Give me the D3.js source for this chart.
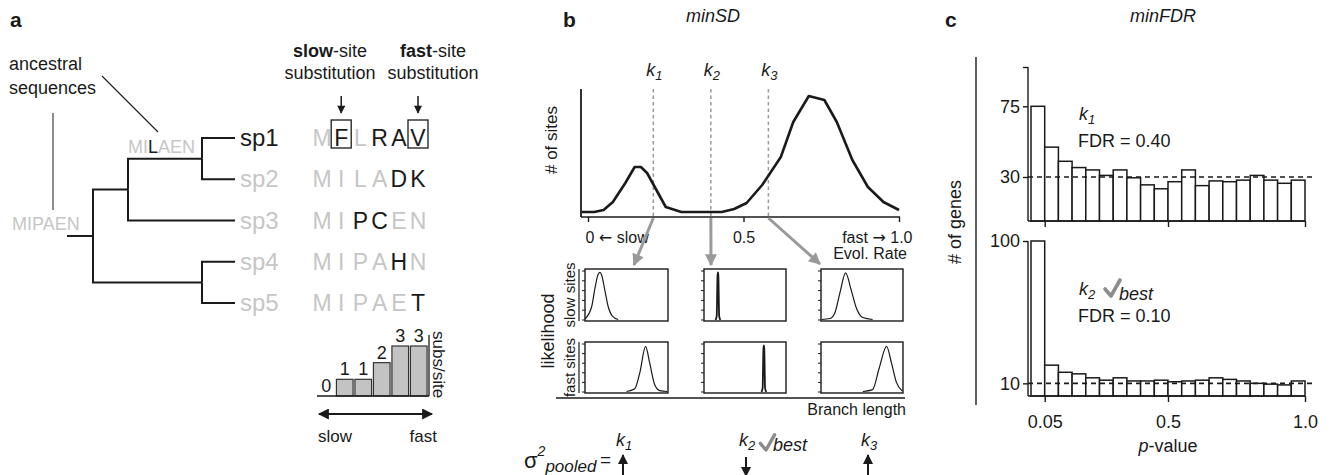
<!DOCTYPE html>
<html lang='en'>
<head>
    <meta charset='UTF-8'>
    <title>Site-rate partition figure</title>
    <style>
        body { margin: 0; background: #fff; }
        svg { display: block; font-family: 'Liberation Sans', Arial, Helvetica, sans-serif; }
        .axis path, .axis line { stroke: #1a1a1a; stroke-width: 1.4px; }
        .axis text { font-family: 'Liberation Sans', Arial, Helvetica, sans-serif; fill: #1a1a1a; }
        .arrowglyph { font-family: 'DejaVu Sans', sans-serif; }
    </style>
</head>
<body>
    <div id="figure"></div>
    <script src='https://d3js.org/d3.v7.min.js'></script>
    <script>
        // ---------- panel a data ----------
        const species = ['sp1', 'sp2', 'sp3', 'sp4', 'sp5']
        const leafSeqs = ['MFLRAV', 'MILADK', 'MIPCEN', 'MIPAHN', 'MIPAET']
        const treeRows = [
            { id: 'root', parent: '', len: 0 },
            { id: 'A', parent: 'root', len: 35 },
            { id: 'B', parent: 'A', len: 74 },
            { id: 'sp1', parent: 'B', len: 33 },
            { id: 'sp2', parent: 'B', len: 33 },
            { id: 'sp3', parent: 'A', len: 107 },
            { id: 'C', parent: 'root', len: 109 },
            { id: 'sp4', parent: 'C', len: 33 },
            { id: 'sp5', parent: 'C', len: 33 }
        ]
        const rootStubLen = 26
        const ancestralNodes = ['root', 'A']
        const ancestralSeqs = ['MIPAEN', 'MILAEN']
        const boxedCols = [1, 5] // slow-site and fast-site columns
        const subsPerSite = [0, 1, 1, 2, 3, 3]

        // ---------- panel b data ----------
        const rateGrid = [-0.02, 0.02, 0.05, 0.08, 0.12, 0.15, 0.17, 0.19, 0.22, 0.25, 0.30, 0.39, 0.43,
            0.47, 0.51, 0.56, 0.62, 0.66, 0.71, 0.76, 0.80, 0.85, 0.90, 0.95, 1.00]
        const siteCounts = [5, 5, 7, 15, 34, 50, 50, 44, 27, 10, 5, 5, 5, 8, 14, 32, 60, 95, 121, 117, 95, 57, 30, 15, 7]
        const rateTicks = [0, 0.5, 1]
        const kCuts = [0.21, 0.395, 0.58]
        const kNames = ['1', '2', '3']
        const pooledDir = ['up', 'down', 'up']
        const bestK = 1
        // likelihood curves, [branch length, relative likelihood] per cut
        const slowLik = [
            [[0, 0.02], [0.08, 0.27], [0.12, 0.65], [0.16, 0.94], [0.18, 0.97], [0.2, 0.92], [0.24, 0.6], [0.28, 0.27], [0.33, 0.08], [0.4, 0.01]],
            [[0.14, 0], [0.155, 0.08], [0.165, 0.9], [0.17, 0.97], [0.175, 0.9], [0.185, 0.08], [0.2, 0]],
            [[0.01, 0.01], [0.11, 0.03], [0.17, 0.15], [0.23, 0.55], [0.3, 0.96], [0.37, 0.6], [0.43, 0.25], [0.51, 0.05], [0.63, 0.01]]
        ]
        const fastLik = [
            [[0.5, 0.01], [0.6, 0.07], [0.66, 0.4], [0.73, 0.95], [0.78, 0.6], [0.84, 0.15], [0.9, 0.03], [0.99, 0.01]],
            [[0.7, 0], [0.715, 0.08], [0.725, 0.9], [0.73, 0.97], [0.735, 0.9], [0.745, 0.08], [0.76, 0]],
            [[0.51, 0.01], [0.63, 0.05], [0.71, 0.5], [0.8, 0.95], [0.86, 0.6], [0.92, 0.2], [0.99, 0.02]]
        ]

        // ---------- panel c data ----------
        const pBreaks = [0, 0.05, 0.1, 0.15, 0.2, 0.25, 0.3, 0.35, 0.4, 0.45, 0.5,
            0.55, 0.6, 0.65, 0.7, 0.75, 0.8, 0.85, 0.9, 0.95, 1.0]
        const genesK1 = [75, 49, 40, 36, 34.5, 31, 34.5, 29.5, 25, 22.5, 27, 34.5, 24.5, 27.5, 27, 28, 31, 28, 26, 28]
        const genesK2 = [100, 21.5, 17, 16, 13.5, 12, 13.5, 11.5, 11.5, 12, 11, 11.5, 12, 13.5, 12.5, 11.5, 10, 9.5, 9, 11.5]
        const pTicks = [0.05, 0.5, 1.0]
        const nullK1 = 30
        const nullK2 = 10
        const fdrK1 = '0.40'
        const fdrK2 = '0.10'

        const ink = '#1a1a1a'
        const pale = '#c6c6c6'
        const grey = '#9a9a9a'

        const svg = d3.select('#figure').append('svg')
            .attr('width', 1336)
            .attr('height', 475)

        const defs = svg.append('defs')
        function addMarker(id, color, w, h) {
            defs.append('marker')
                .attr('id', id)
                .attr('viewBox', '0 0 10 10')
                .attr('refX', 9).attr('refY', 5)
                .attr('markerUnits', 'userSpaceOnUse')
                .attr('markerWidth', w).attr('markerHeight', h)
                .attr('orient', 'auto-start-reverse')
                .append('path')
                .attr('d', 'M0,0 L10,5 L0,10 z')
                .attr('fill', color)
        }
        addMarker('headBlack', ink, 9, 8)
        addMarker('headMid', ink, 10, 10)
        addMarker('headBig', ink, 12, 11)
        addMarker('headGrey', grey, 13, 12)

        function kLabel(g, x, y, k, size, anchor) {
            const t = g.append('text')
                .attr('x', x).attr('y', y)
                .attr('text-anchor', anchor || 'middle')
                .attr('font-size', size)
                .attr('font-style', 'italic')
                .attr('fill', ink)
            t.append('tspan').text('k')
            t.append('tspan').attr('dy', size * 0.22).attr('font-size', size * 0.72).text(k)
            return t
        }

        function check(g, x, y, s) {
            // gray tick mark, (x, y) = bottom of stroke
            g.append('path')
                .attr('d', `M${x - 6 * s},${y - 7 * s} L${x},${y} L${x + 9 * s},${y - 16 * s}`)
                .attr('fill', 'none')
                .attr('stroke', '#8c8c8c')
                .attr('stroke-width', 3.6 * s)
                .attr('stroke-linecap', 'round')
                .attr('stroke-linejoin', 'round')
        }

        // panel letters
        svg.selectAll('text.panel')
            .data([['a', 10], ['b', 563], ['c', 945]])
            .enter().append('text')
            .attr('class', 'panel')
            .attr('x', d => d[1]).attr('y', 27)
            .attr('font-size', 21).attr('font-weight', 'bold')
            .attr('fill', ink)
            .text(d => d[0])

        // =================== panel a ===================
        const ga = svg.append('g')

        const root = d3.stratify()
            .id(d => d.id)
            .parentId(d => d.parent || null)(treeRows)
        root.eachBefore(d => { d.dist = (d.parent ? d.parent.dist : 0) + d.data.len })

        const leafY = d3.scalePoint().domain(species).range([138, 303])
        const treeX = d3.scaleLinear().domain([-rootStubLen, d3.max(root.leaves(), d => d.dist)]).range([67, 235])
        root.eachAfter(d => {
            d.x = treeX(d.dist)
            d.y = d.children ? d3.mean(d.children, c => c.y) : leafY(d.id)
        })

        ga.append('path')
            .attr('d', `M${treeX(-rootStubLen)},${root.y} H${root.x}`)
            .attr('stroke', ink).attr('stroke-width', 2).attr('fill', 'none')
        ga.selectAll('path.branch')
            .data(root.links())
            .enter().append('path')
            .attr('class', 'branch')
            .attr('d', l => `M${l.source.x},${l.source.y} V${l.target.y} H${l.target.x}`)
            .attr('fill', 'none')
            .attr('stroke', ink)
            .attr('stroke-width', 2)

        // species names
        ga.selectAll('text.sp')
            .data(species)
            .enter().append('text')
            .attr('class', 'sp')
            .attr('x', 240)
            .attr('y', d => leafY(d) + 8)
            .attr('font-size', 24)
            .attr('fill', (d, i) => i === 0 ? ink : pale)
            .text(d => d)

        // aligned sequences, changed residues relative to the nearest drawn ancestor in black
        const colX = d3.scalePoint().domain(d3.range(6)).range([322, 418])
        const seqRef = {}
        ancestralNodes.forEach((n, i) => { seqRef[n] = ancestralSeqs[i] })
        function refSeq(node) {
            let p = node.parent
            while (p && !seqRef[p.id]) p = p.parent
            return p ? seqRef[p.id] : null
        }
        const nodeById = new Map(root.descendants().map(d => [d.id, d]))

        species.forEach((sp, r) => {
            const seq = leafSeqs[r]
            const ref = refSeq(nodeById.get(sp))
            ga.selectAll(null)
                .data(seq.split(''))
                .enter().append('text')
                .attr('x', (c, i) => colX(i))
                .attr('y', leafY(sp) + 8)
                .attr('text-anchor', 'middle')
                .attr('font-size', 23)
                .attr('fill', (c, i) => c !== ref[i] ? ink : pale)
                .text(c => c)
        })
        // boxes on the first row
        ga.selectAll('rect.box')
            .data(boxedCols)
            .enter().append('rect')
            .attr('class', 'box')
            .attr('x', c => colX(c) - 10)
            .attr('y', leafY(species[0]) - 18)
            .attr('width', 20).attr('height', 28)
            .attr('fill', 'none').attr('stroke', ink).attr('stroke-width', 1.3)

        // ancestral sequences
        function ancestralText(seq, x, y, ref) {
            const t = ga.append('text').attr('x', x).attr('y', y).attr('font-size', 18)
            seq.split('').forEach((c, i) => {
                t.append('tspan').attr('fill', ref && c !== ref[i] ? ink : pale).text(c)
            })
        }
        const nodeA = nodeById.get('A')
        ancestralText(ancestralSeqs[0], 12, root.y - 6, null)
        ancestralText(ancestralSeqs[1], nodeA.x, nodeById.get('B').y - 6, ancestralSeqs[0])

        ga.append('text').attr('x', 9).attr('y', 70).attr('font-size', 18).attr('fill', ink).text('ancestral')
        ga.append('text').attr('x', 9).attr('y', 94).attr('font-size', 18).attr('fill', ink).text('sequences')
        ga.append('line').attr('x1', 102).attr('y1', 76).attr('x2', 158).attr('y2', 132)
            .attr('stroke', ink).attr('stroke-width', 1.1)
        ga.append('line').attr('x1', 53).attr('y1', 113).attr('x2', 53).attr('y2', 210)
            .attr('stroke', '#666').attr('stroke-width', 1.5)

        // column headers
        const headers = [['slow', 330, colX(boxedCols[0])], ['fast', 433, colX(boxedCols[1])]]
        headers.forEach(([w, cx, ax]) => {
            const t = ga.append('text').attr('x', cx).attr('y', 57).attr('text-anchor', 'middle')
                .attr('font-size', 18).attr('fill', ink)
            t.append('tspan').attr('font-weight', 'bold').text(w)
            t.append('tspan').text('-site')
            ga.append('text').attr('x', cx).attr('y', 79).attr('text-anchor', 'middle')
                .attr('font-size', 18).attr('fill', ink).text('substitution')
            ga.append('line').attr('x1', ax).attr('x2', ax).attr('y1', 96).attr('y2', 113)
                .attr('stroke', ink).attr('stroke-width', 1.5).attr('marker-end', 'url(#headBlack)')
        })

        // subs/site bars
        const subX = d3.scaleBand().domain(d3.range(subsPerSite.length)).range([317, 428]).paddingInner(0.1).paddingOuter(0.05)
        const subY = d3.scaleLinear().domain([0, 3]).range([396, 346])
        ga.selectAll('rect.sub')
            .data(subsPerSite)
            .enter().append('rect')
            .attr('class', 'sub')
            .attr('x', (d, i) => subX(i))
            .attr('y', d => subY(d))
            .attr('width', subX.bandwidth())
            .attr('height', d => subY(0) - subY(d))
            .attr('fill', '#c3c3c3')
            .attr('stroke', '#333').attr('stroke-width', 1.2)
        ga.selectAll('text.sub')
            .data(subsPerSite)
            .enter().append('text')
            .attr('class', 'sub')
            .attr('x', (d, i) => subX(i) + subX.bandwidth() / 2)
            .attr('y', d => subY(d) - 4)
            .attr('text-anchor', 'middle')
            .attr('font-size', 18)
            .attr('fill', ink)
            .text(d => d)
        ga.append('line').attr('x1', 317).attr('x2', 429).attr('y1', subY(0)).attr('y2', subY(0))
            .attr('stroke', ink).attr('stroke-width', 1.3)
        ga.append('line').attr('x1', 429).attr('x2', 429).attr('y1', 335).attr('y2', subY(0))
            .attr('stroke', ink).attr('stroke-width', 1.3)
        ga.append('text').attr('transform', 'translate(433,331) rotate(90)')
            .attr('font-size', 17).attr('fill', ink).text('subs/site')
        ga.append('line').attr('x1', 319).attr('x2', 432).attr('y1', 414).attr('y2', 414)
            .attr('stroke', ink).attr('stroke-width', 1.8)
            .attr('marker-start', 'url(#headBig)').attr('marker-end', 'url(#headBig)')
        ga.append('text').attr('x', 318).attr('y', 442).attr('font-size', 17).attr('fill', ink).text('slow')
        ga.append('text').attr('x', 437).attr('y', 442).attr('text-anchor', 'end').attr('font-size', 17).attr('fill', ink).text('fast')

        // =================== panel b ===================
        const gb = svg.append('g')
        gb.append('text').attr('x', 713).attr('y', 22).attr('text-anchor', 'middle')
            .attr('font-size', 18).attr('font-style', 'italic').attr('fill', ink).text('minSD')

        const rx = d3.scaleLinear().domain([0, 1]).range([588, 899])
        const ry = d3.scaleLinear().domain([0, 130]).range([217, 87])

        // k cut lines
        kCuts.forEach((k, i) => {
            gb.append('line').attr('x1', rx(k)).attr('x2', rx(k)).attr('y1', ry(128)).attr('y2', ry(0))
                .attr('stroke', grey).attr('stroke-width', 1.5).attr('stroke-dasharray', '3.5,3')
            kLabel(gb, rx(k) + 1, 76, kNames[i], 18)
        })

        gb.append('path')
            .datum(rateGrid.map((r, i) => [r, siteCounts[i]]))
            .attr('d', d3.line().x(d => rx(d[0])).y(d => ry(d[1])))
            .attr('fill', 'none').attr('stroke', ink).attr('stroke-width', 2.6)
            .attr('stroke-linejoin', 'round')

        const xAxisB = gb.append('g').attr('class', 'axis')
            .attr('transform', `translate(0,${ry(0)})`)
            .call(d3.axisBottom(rx).tickValues(rateTicks).tickSize(5).tickSizeOuter(0)
                .tickFormat(d => d === 0.5 ? '0.5' : ''))
        xAxisB.select('.domain').attr('d', `M${rx.range()[0] - 7},0 H${rx.range()[1] + 1}`).attr('stroke-width', 1.8)
        xAxisB.selectAll('text').attr('font-size', 16).attr('dy', '1.1em')
        // end labels with arrow glyphs
        xAxisB.selectAll('.tick text')
            .filter(d => d !== 0.5)
            .attr('text-anchor', d => d === 0 ? 'start' : 'end')
            .attr('dx', d => d === 0 ? -3 : 13)
            .each(function (d) {
                const t = d3.select(this)
                const parts = d === 0 ? ['0 ', '\u2190', ' slow'] : ['fast ', '\u2192', ' 1.0']
                parts.forEach((p, j) => t.append('tspan').attr('class', j === 1 ? 'arrowglyph' : null).text(p))
            })
        gb.append('line').attr('x1', rx.range()[0] - 7).attr('x2', rx.range()[0] - 7)
            .attr('y1', ry(128)).attr('y2', ry(0))
            .attr('stroke', ink).attr('stroke-width', 1.8)
        gb.append('text').attr('transform', `translate(557,140) rotate(-90)`)
            .attr('text-anchor', 'middle').attr('font-size', 17).attr('fill', ink).text('# of sites')
        gb.append('text').attr('x', 907).attr('y', 259).attr('text-anchor', 'end')
            .attr('font-size', 16).attr('fill', ink).text('Evol. Rate')

        // likelihood panels
        const colsB = [[585, 668], [704, 786], [821, 903]]
        const rowsB = [[269, 321], [342, 393]]
        const likSets = [slowLik, fastLik]
        const arrowEnds = [[634, 265], [711, 265], [820, 264]]

        kCuts.forEach((k, i) => {
            gb.append('line')
                .attr('x1', rx(k)).attr('y1', ry(0) + 1)
                .attr('x2', arrowEnds[i][0]).attr('y2', arrowEnds[i][1])
                .attr('stroke', grey).attr('stroke-width', 3)
                .attr('marker-end', 'url(#headGrey)')
        })

        rowsB.forEach((row, r) => {
            colsB.forEach((col, c) => {
                const px = d3.scaleLinear().domain([0, 1]).range(col)
                const py = d3.scaleLinear().domain([0, 1]).range([row[1] - 1, row[0] + 2])
                const g = gb.append('g')
                g.append('rect').attr('x', col[0]).attr('y', row[0])
                    .attr('width', col[1] - col[0]).attr('height', row[1] - row[0])
                    .attr('fill', 'none').attr('stroke', ink).attr('stroke-width', 1.4)
                g.selectAll('line.tk')
                    .data([0, 0.2, 0.4, 0.6, 0.8, 1])
                    .enter().append('line')
                    .attr('class', 'tk')
                    .attr('x1', col[0] - 3).attr('x2', col[0])
                    .attr('y1', d => py(d)).attr('y2', d => py(d))
                    .attr('stroke', ink).attr('stroke-width', 1)
                const spike = c === bestK
                g.append('path')
                    .datum(likSets[r][c])
                    .attr('d', d3.line().x(d => px(d[0])).y(d => py(d[1])).curve(d3.curveMonotoneX))
                    .attr('fill', 'none').attr('stroke', ink).attr('stroke-width', spike ? 1.8 : 1.2)
            })
            gb.append('line').attr('x1', 579).attr('x2', 579).attr('y1', row[0]).attr('y2', row[1])
                .attr('stroke', ink).attr('stroke-width', 1.2)
            gb.append('text')
                .attr('transform', `translate(575,${(row[0] + row[1]) / 2}) rotate(-90)`)
                .attr('text-anchor', 'middle').attr('font-size', 15).attr('fill', ink)
                .text(r === 0 ? 'slow sites' : 'fast sites')
        })
        gb.append('line').attr('x1', 556).attr('x2', 905).attr('y1', 398).attr('y2', 398)
            .attr('stroke', ink).attr('stroke-width', 1.6)
        gb.append('text').attr('transform', 'translate(554,331) rotate(-90)')
            .attr('text-anchor', 'middle').attr('font-size', 18).attr('fill', ink).text('likelihood')
        gb.append('text').attr('x', 906).attr('y', 415).attr('text-anchor', 'end')
            .attr('font-size', 16).attr('fill', ink).text('Branch length')

        // pooled variance row
        const sig = gb.append('text').attr('x', 524).attr('y', 468).attr('fill', ink)
        sig.append('tspan').attr('font-size', 22).text('\u03c3')
        sig.append('tspan').attr('font-size', 14).attr('font-style', 'italic').attr('dy', -12).text('2')
        sig.append('tspan').attr('font-size', 17).attr('font-style', 'italic').attr('dy', 16).text('pooled')
        gb.append('text').attr('x', 600).attr('y', 466).attr('font-size', 19).attr('fill', ink).text('=')

        const pooledX = [623, 746, 868]
        kCuts.forEach((k, i) => {
            const x = pooledX[i]
            kLabel(gb, x + 1, 446, kNames[i], 18)
            const up = pooledDir[i] === 'up'
            gb.append('line').attr('x1', x).attr('x2', x)
                .attr('y1', up ? 475 : 457).attr('y2', up ? 455 : 476)
                .attr('stroke', ink).attr('stroke-width', 2)
                .attr('marker-end', 'url(#headMid)')
            if (i === bestK) {
                check(gb, x + 20, 450, 0.95)
                gb.append('text').attr('x', x + 27).attr('y', 451).attr('font-size', 18)
                    .attr('font-style', 'italic').attr('fill', ink).text('best')
            }
        })

        // =================== panel c ===================
        const gc = svg.append('g')
        gc.append('text').attr('x', 1163).attr('y', 22).attr('text-anchor', 'middle')
            .attr('font-size', 18).attr('font-style', 'italic').attr('fill', ink).text('minFDR')
        gc.append('line').attr('x1', 976).attr('x2', 976).attr('y1', 57).attr('y2', 405)
            .attr('stroke', ink).attr('stroke-width', 1.4)
        gc.append('text').attr('transform', 'translate(961,222) rotate(-90)')
            .attr('text-anchor', 'middle').attr('font-size', 18).attr('fill', ink).text('# of genes')

        const pxc = d3.scaleLinear().domain([0, 1]).range([1031, 1305])
        const hists = [
            { counts: genesK1, yRange: [221, 67], ticks: [100, 75, 30], labelTop: false, nullLine: nullK1, k: kNames[0], fdr: fdrK1, ky: 120, best: false },
            { counts: genesK2, yRange: [396, 241], ticks: [100, 10], labelTop: true, nullLine: nullK2, k: kNames[1], fdr: fdrK2, ky: 295, best: true }
        ]
        hists.forEach((h, hi) => {
            const y = d3.scaleLinear().domain([2, 100]).range(h.yRange)
            const g = gc.append('g')
            g.selectAll('rect')
                .data(h.counts)
                .enter().append('rect')
                .attr('x', (d, i) => pxc(pBreaks[i]))
                .attr('y', d => y(d))
                .attr('width', (d, i) => pxc(pBreaks[i + 1]) - pxc(pBreaks[i]))
                .attr('height', d => y(2) - y(d))
                .attr('fill', '#fff').attr('stroke', ink).attr('stroke-width', 1.5)

            const ya = g.append('g').attr('class', 'axis')
                .attr('transform', 'translate(1028,0)')
                .call(d3.axisLeft(y).tickValues(h.ticks).tickSize(5).tickSizeOuter(0)
                    .tickFormat(d => (d === 100 && !h.labelTop) ? '' : d))
            ya.select('.domain').attr('d', `M0,${y(100)} V${y(2)}`)
            ya.selectAll('text').attr('font-size', 18)

            const xa = g.append('g').attr('class', 'axis')
                .attr('transform', `translate(0,${y(2)})`)
                .call(d3.axisBottom(pxc).tickValues(pTicks).tickSize(6).tickSizeOuter(0)
                    .tickFormat(d => hi === 1 ? (d === 0.05 ? '0.05' : d3.format('.1f')(d)) : ''))
            xa.select('.domain').attr('d', `M1028,0 H${pxc(1)}`)
            xa.selectAll('text').attr('font-size', 18).attr('dy', '1.25em')

            g.append('line').attr('x1', 1028).attr('x2', 1316)
                .attr('y1', y(h.nullLine)).attr('y2', y(h.nullLine))
                .attr('stroke', ink).attr('stroke-width', 1.6).attr('stroke-dasharray', '5,4')

            kLabel(g, 1079, h.ky, h.k, 18, 'start')
            if (h.best) {
                check(g, 1111, h.ky + 1, 1)
                g.append('text').attr('x', 1119).attr('y', h.ky + 5).attr('font-size', 18)
                    .attr('font-style', 'italic').attr('fill', ink).text('best')
            }
            g.append('text').attr('x', 1078).attr('y', h.ky + 27).attr('font-size', 18)
                .attr('fill', ink).text('FDR = ' + h.fdr)
        })
        const pl = gc.append('text').attr('x', 1168).attr('y', 452).attr('text-anchor', 'middle')
            .attr('font-size', 18).attr('fill', ink)
        pl.append('tspan').attr('font-style', 'italic').text('p')
        pl.append('tspan').text('-value')
    </script>
</body>
</html>
